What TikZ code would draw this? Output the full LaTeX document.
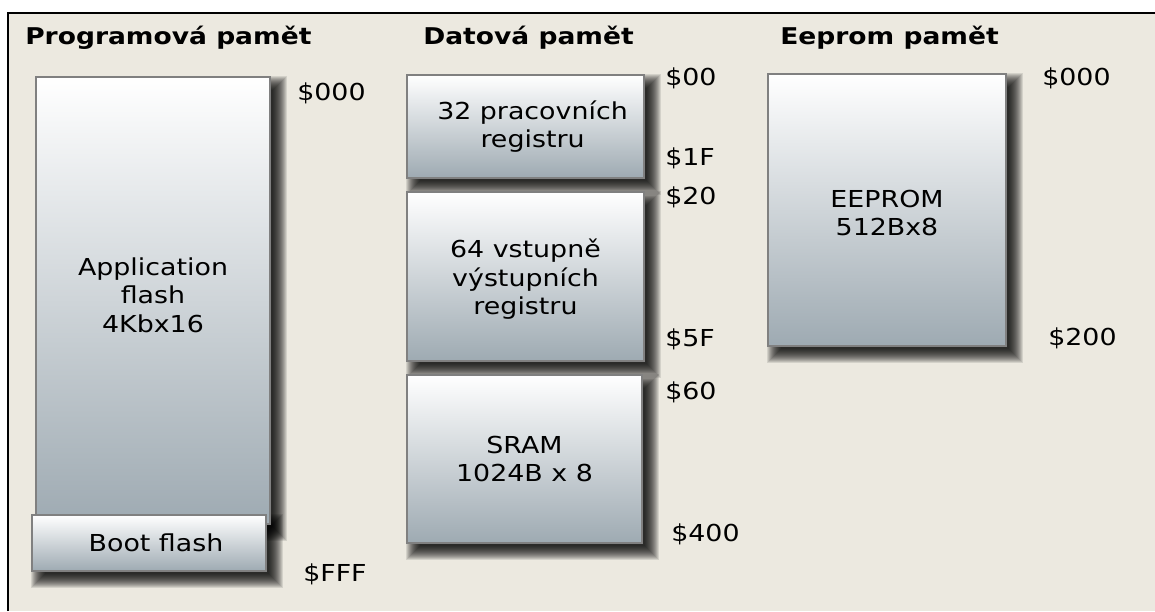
\documentclass[tikz,border=0pt]{standalone}
\usepackage{fontspec}
\setmainfont{DejaVu Sans}[FakeStretch=1.15]
\usepackage{tikz}
\usetikzlibrary{fit,backgrounds,positioning}

\definecolor{pagebeige}{RGB}{236,233,224}
\definecolor{memgrey}{RGB}{158,170,178}
\definecolor{memedge}{RGB}{128,128,128}

\newcommand{\boxtext}{\fontsize{16.6}{20.3}\selectfont}
\newcommand{\headtext}{\fontsize{16.4}{18}\selectfont\bfseries}

% soft shadow below and right of a box
\newcommand{\memshadow}[1]{%
  \foreach \e in {0,...,14} {
    \fill[black, opacity=0.1]
      ([shift={(14-\e,14-\e)}]#1.north west) rectangle
      ([shift={(2+\e,2+\e)}]#1.south east);
  }}

\begin{document}
\begin{tikzpicture}[x=0.025cm, y=-0.025cm,
    membox/.style={draw=memedge, line width=1pt, shading=axis,
                   top color=white, bottom color=memgrey, inner sep=0pt},
    boxlabel/.style={inner sep=0pt, align=center, font=\boxtext},
    addr/.style={anchor=west, inner sep=0pt, font=\boxtext},
    heading/.style={anchor=base west, inner sep=0pt, font=\headtext},
  ]
  \useasboundingbox (0,0) rectangle (1155,611);

  % --- titles ---
  \node[heading] (tprog) at (25,45) {Programová pamět};
  \node[heading] (tdata) at (423,45) {Datová pamět};
  \node[heading] (teep) at (780,45) {Eeprom pamět};

  % --- program memory ---
  \node[membox, fit={(36,77) (270,524)}] (app) {};
  \node[membox, fit={(32,515) (266,571)}] (boot) {};
  \node[boxlabel] (apptext) at ([yshift=4pt]app.center) {Application\\flash\\4Kbx16};
  \node[boxlabel] (boottext) at ([xshift=5pt]boot.center) {Boot flash};
  \node[addr] (p000) at (297,93) {\$000};
  \node[addr] (pfff) at (303,574) {\$FFF};

  % --- data memory ---
  \node[membox, fit={(407,75) (644,178)}] (work) {};
  \node[membox, fit={(407,192) (644,361)}] (io) {};
  \node[membox, fit={(407,375) (642,543)}] (sram) {};
  \node[boxlabel] (worktext) at ([xshift=5pt]work.center) {32 pracovních\\registru};
  \node[boxlabel] (iotext) at ([yshift=-2pt]io.center) {64 vstupně\\výstupních\\registru};
  \node[boxlabel] (sramtext) at (sram.center) {SRAM\\1024B x 8};
  \node[addr] (d00) at (665,78) {\$00};
  \node[addr] (d1f) at (665,158) {\$1F};
  \node[addr] (d20) at (665,197) {\$20};
  \node[addr] (d5f) at (665,339) {\$5F};
  \node[addr] (d60) at (665,392) {\$60};
  \node[addr] (d400) at (671,534) {\$400};

  % --- eeprom ---
  \node[membox, fit={(768,74) (1006,346)}] (eep) {};
  \node[boxlabel] (eeptext) at ([yshift=-2pt]eep.center) {EEPROM\\512Bx8};
  \node[addr] (e000) at (1042,78) {\$000};
  \node[addr] (e200) at (1048,338) {\$200};

  % --- page and shadows ---
  \begin{scope}[on background layer]
    \fill[pagebeige] (8,13) rectangle (1155,611);
    \draw[line width=1.4pt] (8,611) -- (8,13) -- (1155,13);
    \foreach \b in {app,boot,work,io,sram,eep} {\memshadow{\b}}
  \end{scope}
\end{tikzpicture}
\end{document}
